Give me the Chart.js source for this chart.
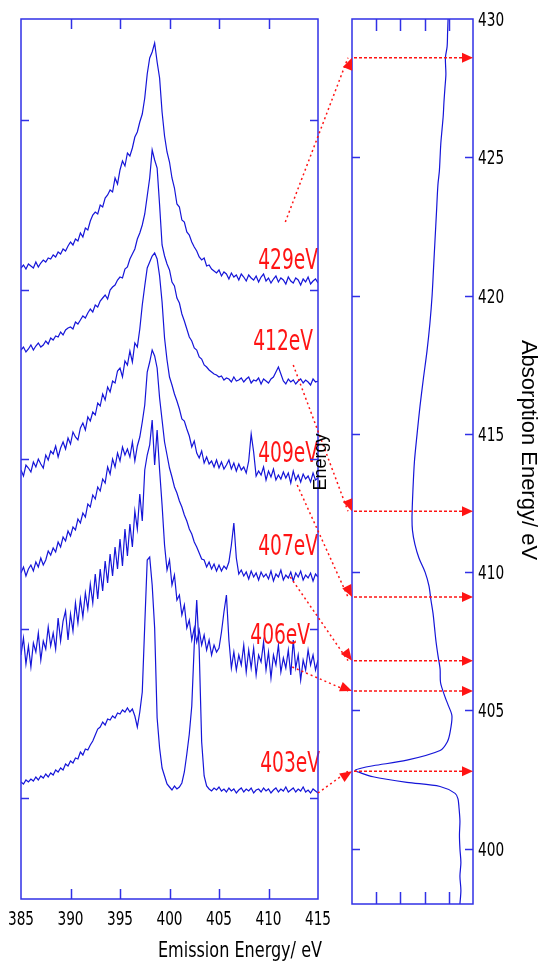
<!DOCTYPE html>
<html>
<head>
<meta charset="utf-8">
<script src="https://cdn.jsdelivr.net/npm/chart.js@4.4.1/dist/chart.umd.min.js"></script>
<style>
  body { margin: 0; background: #fff; }
  #wrap { position: relative; width: 539px; height: 965px; }
  #wrap canvas { position: absolute; left: 0; top: 0; }
</style>
</head>
<body>
<div id="wrap">
  <canvas id="emission" width="539" height="965"></canvas>
  <canvas id="absorption" width="539" height="965"></canvas>
</div>
<script>
// emission energy grid (eV)
const emissionEnergy = [
  385,385.25,385.5,385.75,386,386.25,386.5,386.75,387,387.25,387.5,387.75,388,388.25,388.5,388.75,
  389,389.25,389.5,389.75,390,390.25,390.5,390.75,391,391.25,391.5,391.75,392,392.25,392.5,392.75,
  393,393.25,393.5,393.75,394,394.25,394.5,394.75,395,395.25,395.5,395.75,396,396.25,396.5,396.75,
  397,397.25,397.5,397.75,398,398.25,398.5,398.75,399,399.25,399.5,399.75,400,400.25,400.5,400.75,
  401,401.25,401.5,401.75,402,402.25,402.5,402.75,403,403.25,403.5,403.75,404,404.25,404.5,404.75,
  405,405.25,405.5,405.75,406,406.25,406.5,406.75,407,407.25,407.5,407.75,408,408.25,408.5,408.75,
  409,409.25,409.5,409.75,410,410.25,410.5,410.75,411,411.25,411.5,411.75,412,412.25,412.5,412.75,
  413,413.25,413.5,413.75,414,414.25,414.5,414.75,415
];

// emission spectra, already stacked (arbitrary units)
const spec429 = [
  530,533,529,534,532,530,536,531,535,538, 536,540,539,543,541,546,544,549,547,552,
  556,553,559,557,565,561,570,568,577,583, 586,584,593,591,600,603,608,606,620,614,
  628,637,632,645,642,650,661,666,676,684, 700,724,740,746,755,736,720,686,662,646,
  636,620,610,594,591,578,576,566,563,556, 551,547,541,538,540,532,533,529,527,525,
  528,522,526,524,519,525,521,523,518,524, 521,517,523,520,518,522,516,521,524,517,
  520,515,519,522,516,520,518,514,521,517, 515,520,518,513,519,516,521,514,517,519,
  515
];
const spec412 = [
  448,451,446,449,453,448,452,455,451,453, 457,454,460,458,462,461,466,463,468,470,
  471,469,476,474,478,482,480,485,489,486, 493,491,497,500,503,499,508,511,513,518,
  521,520,529,531,539,544,549,559,565,573, 584,602,620,648,638,630,593,553,542,534,
  528,516,512,500,495,484,477,469,461,457, 450,448,441,439,433,431,428,426,424,423,
  421,422,418,420,419,416,421,417,418,420, 416,419,421,415,418,417,420,414,419,417,
  415,419,421,426,431,424,417,414,419,416, 418,414,417,419,415,418,416,413,419,416,
  417
];
const spec409 = [
  328,322,333,330,326,336,331,339,334,330, 343,338,347,344,352,341,350,356,349,360,
  354,366,361,358,370,375,368,381,377,386, 383,395,392,404,398,411,406,417,415,427,
  430,421,437,433,447,436,455,451,469,493, 512,530,536,542,545,539,522,496,460,438,
  421,413,404,397,389,379,377,369,362,351, 357,345,340,347,335,341,334,337,331,338,
  330,336,329,333,338,329,335,327,334,328, 331,325,337,364,346,322,327,323,331,318,
  327,321,329,318,323,319,326,320,325,315, 327,318,323,316,324,319,322,316,325,318,
  320
];
const spec407 = [
  225,231,222,229,233,227,236,231,240,233, 238,247,243,250,246,256,251,261,257,267,
  262,271,268,279,275,285,281,294,291,303, 299,311,307,319,315,331,324,339,331,345,
  337,351,343,349,341,356,337,352,361,376, 393,426,436,448,442,430,400,378,356,343,
  330,321,311,305,297,291,283,277,269,264, 256,251,245,239,238,231,236,229,234,227,
  233,227,232,229,236,253,275,240,224,228, 222,226,219,227,221,225,218,226,221,224,
  219,227,217,224,221,228,218,223,220,226, 217,225,221,227,218,223,220,225,217,224,
  221
];
const spec406 = [
  143,160,134,152,131,155,146,165,138,157, 149,171,152,165,149,180,157,177,187,158,
  184,167,195,175,199,181,205,189,214,195, 224,199,229,207,237,215,244,222,251,229,
  259,232,269,242,274,251,287,269,304,277, 328,343,353,378,333,368,328,293,253,228,
  238,213,223,198,203,183,193,170,178,158, 170,156,168,153,163,148,158,143,153,146,
  150,166,186,203,158,130,146,128,143,133, 153,126,148,130,150,123,143,136,156,128,
  146,120,143,133,153,126,140,130,148,123, 158,130,143,118,138,128,148,133,143,128,
  138
];
const spec403 = [
  16,14,18,16,19,17,21,18,22,20, 24,21,25,23,28,26,30,28,34,32,
  37,35,40,39,46,43,49,48,53,57, 63,69,71,76,73,79,78,82,80,85,
  84,88,86,90,86,89,82,71,86,106, 173,238,241,213,170,80,50,30,22,14,
  11,8,12,9,11,15,26,44,64,92, 153,198,148,56,22,12,9,7,10,8,
  11,7,9,6,10,7,9,5,8,10, 6,9,7,10,5,8,9,6,10,7,
  9,5,8,10,6,9,7,11,6,8, 10,6,9,7,11,6,8,5,9,7,
  5
];
const excitation = ['429eV', '412eV', '409eV', '407eV', '406eV', '403eV'];

// absorption spectrum (energy in eV, signal in arbitrary units)
const absEnergy = [
  430,429.5,429,428.6,428,427.5,427,426.5,426,425.5,425,424.5,424,423,422,421,420,419,418,417,
  416,415,414,413,412,411.5,411,410.5,410,409.5,409,408.5,408,407.5,407,406.5,406,405.5,405.2,
  404.8,404.2,403.85,403.55,403.2,403,402.9,402.83,402.75,402.6,402.4,402.25,402,401.8,401.5,
  401,400.5,400,399.5,399,398.5,398
];
const absSignal = [
  3.97,3.95,3.93,3.86,3.88,3.84,3.80,3.77,3.72,3.67,3.64,3.61,3.55,3.49,3.43,3.37,3.31,3.22,3.10,2.95,
  2.81,2.69,2.58,2.52,2.48,2.50,2.60,2.77,3.02,3.18,3.26,3.35,3.41,3.47,3.55,3.64,3.66,3.84,3.97,
  4.13,4.05,3.93,3.64,2.27,0.87,0.33,0.12,0.33,0.87,2.27,3.64,4.26,4.38,
  4.42,4.46,4.44,4.46,4.50,4.46,4.50,4.46
];
// excitation energy read on the absorption axis
const excitedAt = [428.6, 412.2, 409.1, 406.8, 405.7, 402.8];

const spectra = [spec429, spec412, spec409, spec407, spec406, spec403];

// where the red tags and arrow tails sit, in left-panel units
const labelAt = [[415, 536], [414.5, 455], [415, 343], [415, 250], [414.2, 161], [415.2, 33]];
const arrowFrom = [[411.7, 576], [412.5, 433], [412.9, 313], [412.2, 221], [412.4, 131], [415, 5]];

const narrow = "'DejaVu Sans Condensed', 'Liberation Sans Narrow', sans-serif";
const plain = "'Liberation Sans', Arial, sans-serif";
const blue = '#1515d8';
const frameBlue = '#3030e6';
const red = '#ff1414';

// text squeezed sideways, the original uses a narrow face
function squeezed(ctx, text, x, y, size, sx, align) {
  ctx.save();
  ctx.translate(x, y);
  ctx.scale(sx, 1);
  ctx.font = size + 'px ' + narrow;
  ctx.textAlign = align;
  ctx.textBaseline = 'middle';
  ctx.fillText(text, 0, 0);
  ctx.restore();
}

// box round the plot + inward tick marks on all four sides
const frame = {
  id: 'frame',
  afterDraw(chart, args, o) {
    const {ctx, chartArea: a, scales: {x, y}} = chart;
    ctx.save();
    ctx.strokeStyle = o.color;
    ctx.lineWidth = 1.5;
    ctx.strokeRect(a.left, a.top, a.right - a.left, a.bottom - a.top);
    ctx.beginPath();
    x.ticks.forEach(t => {
      if (t.value <= x.min || t.value >= x.max) return;
      const px = Math.round(x.getPixelForValue(t.value)) + 0.5;
      ctx.moveTo(px, a.bottom); ctx.lineTo(px, a.bottom - o.xLen);
      ctx.moveTo(px, a.top); ctx.lineTo(px, a.top + o.xLen);
    });
    y.ticks.forEach(t => {
      if (t.value <= y.min || t.value >= y.max) return;
      const py = Math.round(y.getPixelForValue(t.value)) + 0.5;
      ctx.moveTo(a.left, py); ctx.lineTo(a.left + o.yLen, py);
      ctx.moveTo(a.right, py); ctx.lineTo(a.right - o.yLen, py);
    });
    ctx.stroke();
    ctx.restore();
  }
};

// tick numbers, axis title and red tags of the emission panel
const emissionText = {
  id: 'emissionText',
  afterDatasetsDraw(chart) {
    const {ctx, chartArea: a, scales: {x, y}} = chart;
    ctx.save();
    ctx.fillStyle = '#000';
    x.ticks.forEach(t => squeezed(ctx, String(t.value), x.getPixelForValue(t.value), a.bottom + 21, 19, 0.8, 'center'));
    squeezed(ctx, 'Emission Energy/ eV', a.right + 4, 952, 21, 0.85, 'right');
    ctx.fillStyle = red;
    excitation.forEach((t, i) => {
      squeezed(ctx, t, x.getPixelForValue(labelAt[i][0]), y.getPixelForValue(labelAt[i][1]), 28, 0.74, 'right');
    });
    ctx.restore();
  }
};

function arrowHead(ctx, x0, y0, x1, y1, len, half) {
  const a = Math.atan2(y1 - y0, x1 - x0);
  const c = Math.cos(a), s = Math.sin(a);
  ctx.beginPath();
  ctx.moveTo(x1, y1);
  ctx.lineTo(x1 - len * c + half * s, y1 - len * s - half * c);
  ctx.lineTo(x1 - len * c - half * s, y1 - len * s + half * c);
  ctx.closePath();
  ctx.fill();
}

let leftChart;

const arrows = {
  id: 'arrows',
  afterDraw(chart) {
    const {ctx, chartArea: a, scales: {y}} = chart;
    const lx = leftChart.scales.x, ly = leftChart.scales.y;
    ctx.save();
    // right axis numbers and title
    ctx.fillStyle = '#000';
    y.ticks.forEach(t => squeezed(ctx, String(t.value), a.right + 5, y.getPixelForValue(t.value) + 2, 19, 0.8, 'left'));
    ctx.save();
    ctx.translate(528, 450);
    ctx.rotate(Math.PI / 2);
    ctx.font = '22px ' + plain;
    ctx.textAlign = 'center';
    ctx.textBaseline = 'middle';
    ctx.fillText('Absorption Energy/ eV', 0, 0);
    ctx.restore();

    ctx.strokeStyle = red;
    ctx.fillStyle = red;
    ctx.lineWidth = 1.5;
    excitedAt.forEach((e, i) => {
      const x0 = lx.getPixelForValue(arrowFrom[i][0]);
      const y0 = ly.getPixelForValue(arrowFrom[i][1]);
      const ty = y.getPixelForValue(e);
      ctx.setLineDash([2, 3]);
      ctx.beginPath(); ctx.moveTo(x0, y0); ctx.lineTo(a.left - 4, ty); ctx.stroke();
      ctx.setLineDash([3, 2]);
      ctx.beginPath(); ctx.moveTo(a.left + 2, ty); ctx.lineTo(a.right - 8, ty); ctx.stroke();
      ctx.setLineDash([]);
      arrowHead(ctx, x0, y0, a.left, ty, 12, 5);
      arrowHead(ctx, a.left, ty, a.right, ty, 11, 5);
    });
    // leftover "Energy" label sitting on the panel edge
    ctx.fillStyle = '#000';
    ctx.font = '18px ' + plain;
    ctx.translate(lx.getPixelForValue(415) + 3, ly.getPixelForValue(336));
    ctx.rotate(-Math.PI / 2);
    ctx.textAlign = 'center';
    ctx.textBaseline = 'middle';
    ctx.fillText('Energy', 0, 0);
    ctx.restore();
  }
};

leftChart = new Chart(document.getElementById('emission'), {
  type: 'line',
  data: {
    datasets: spectra.map((s, k) => ({
      label: excitation[k],
      data: emissionEnergy.map((x, i) => ({x: x, y: s[i]})),
      borderColor: blue,
      borderWidth: 1.2,
      pointRadius: 0,
      tension: 0
    }))
  },
  options: {
    responsive: false,
    animation: false,
    layout: { padding: { left: 21, top: 19, right: 221, bottom: 0 } },
    plugins: {
      legend: { display: false },
      tooltip: { enabled: false },
      frame: { color: frameBlue, xLen: 10, yLen: 8 }
    },
    scales: {
      x: {
        type: 'linear', min: 385, max: 415,
        ticks: { stepSize: 5, display: false },
        grid: { display: false, drawTicks: false },
        border: { display: false },
        afterFit: s => { s.height = 66; s.paddingLeft = 0; s.paddingRight = 0; }
      },
      y: {
        type: 'linear', min: -101, max: 779,
        ticks: { stepSize: 169.5, display: false },
        grid: { display: false, drawTicks: false },
        border: { display: false },
        afterFit: s => { s.width = 0; }
      }
    }
  },
  plugins: [frame, emissionText]
});

new Chart(document.getElementById('absorption'), {
  type: 'line',
  data: {
    datasets: [{
      data: absEnergy.map((e, i) => ({x: absSignal[i], y: e})),
      borderColor: blue,
      borderWidth: 1.2,
      pointRadius: 0,
      tension: 0.3
    }]
  },
  options: {
    indexAxis: 'y',
    responsive: false,
    animation: false,
    layout: { padding: { left: 352, top: 19, right: 0, bottom: 61 } },
    plugins: {
      legend: { display: false },
      tooltip: { enabled: false },
      frame: { color: frameBlue, xLen: 12, yLen: 8 }
    },
    scales: {
      x: {
        type: 'linear', min: 0, max: 5,
        ticks: { stepSize: 1, display: false },
        grid: { display: false, drawTicks: false },
        border: { display: false },
        afterFit: s => { s.height = 0; }
      },
      y: {
        type: 'linear', position: 'right', min: 398, max: 430,
        ticks: { stepSize: 5, display: false },
        afterBuildTicks: s => { s.ticks = s.ticks.filter(t => t.value % 5 === 0); },
        grid: { display: false, drawTicks: false },
        border: { display: false },
        afterFit: s => { s.width = 66; }
      }
    }
  },
  plugins: [frame, arrows]
});
</script>
</body>
</html>
